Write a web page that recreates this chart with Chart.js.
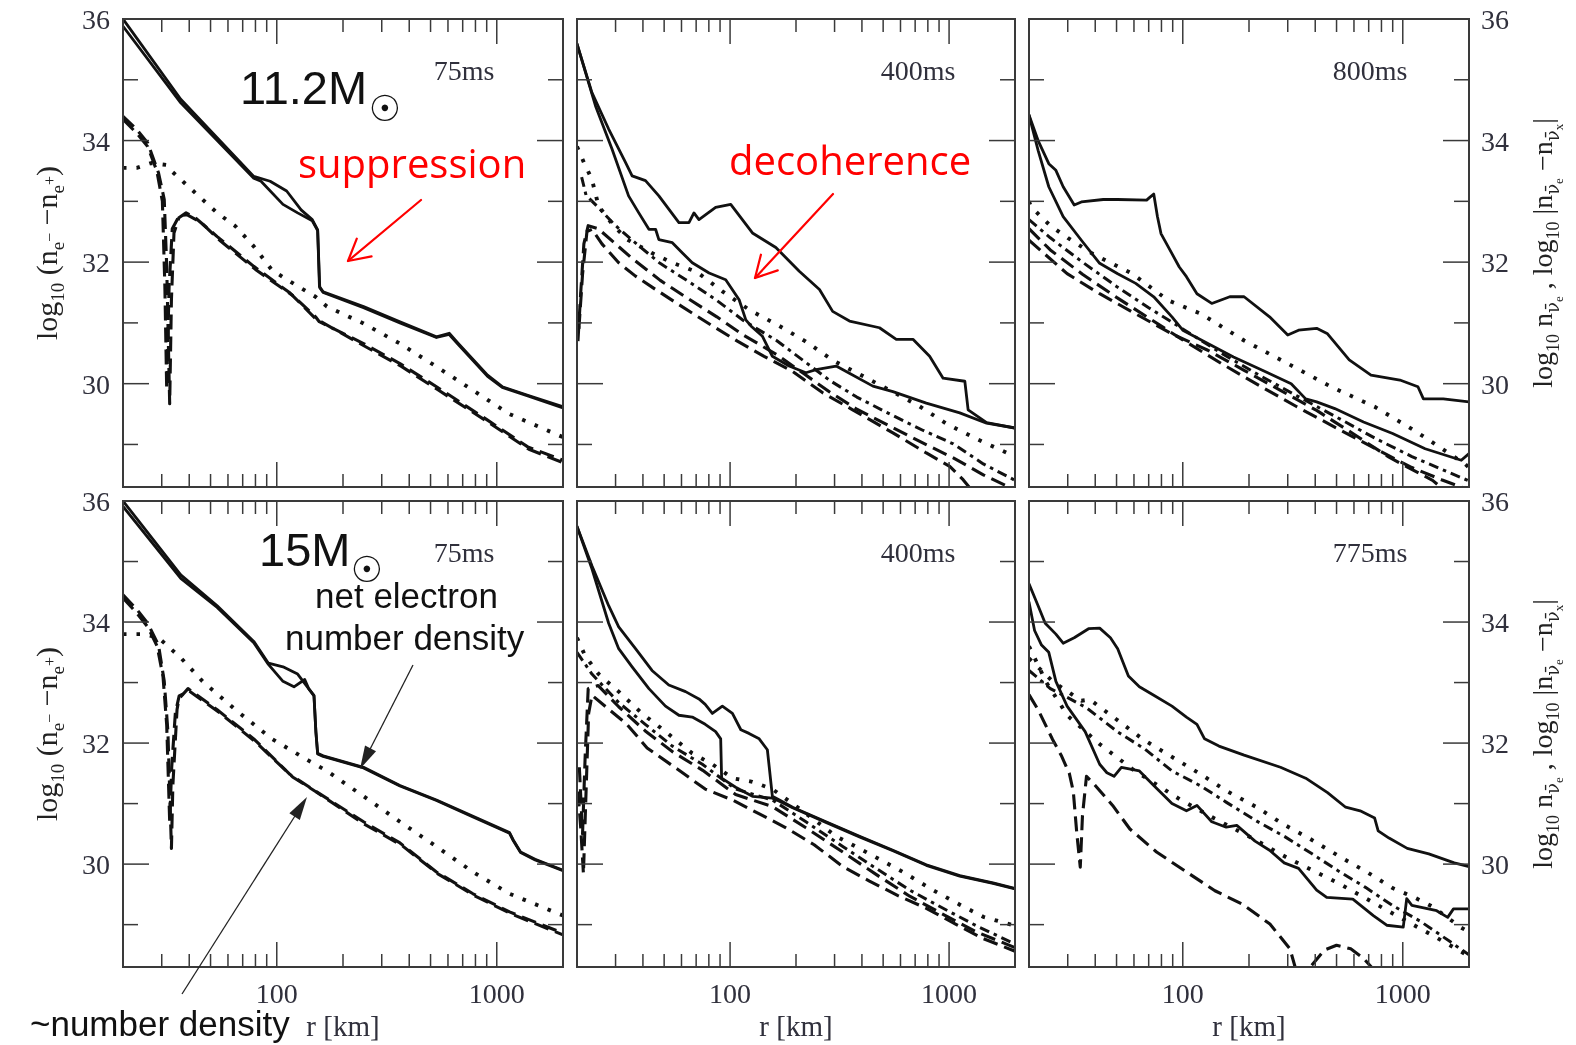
<!DOCTYPE html>
<html>
<head>
<meta charset="utf-8">
<script src="https://cdn.jsdelivr.net/npm/chart.js"></script>
<style>
  html, body { margin: 0; padding: 0; background: #fff; }
  #stage { position: relative; width: 1576px; height: 1045px; overflow: hidden; background: #fff; }
  #stage canvas { position: absolute; left: 0; top: 0; }
  #ann { position: absolute; left: 0; top: 0; }
</style>
</head>
<body>
<div id="stage">
  <svg id="ann" width="1576" height="1045" xmlns="http://www.w3.org/2000/svg"></svg>
</div>
<script>
// ---- axes ----
const X_MIN = 20, X_MAX = 2000;
const Y_MIN = 28.3, Y_MAX = 36;
const xMajorTicks = [100, 1000];
const xMinorTicks = [20, 30, 40, 50, 60, 70, 80, 90, 200, 300, 400, 500, 600, 700, 800, 900, 2000];
const yTicks = [29, 30, 31, 32, 33, 34, 35, 36];
const yTickLabels = [30, 32, 34, 36];
const xTickLabels = [100, 1000];
const timeLabels = ['75ms', '400ms', '800ms', '75ms', '400ms', '775ms'];

// ---- 11.2 Msun, 75 ms : [r km, log10 n] ----
const p1SolidA = [[20,36.0],[36.6,34.68],[78.6,33.41],[93.3,33.33],[110.9,33.17],[129,32.86],[145,32.70],[153.4,32.53],[156.3,31.60],[162.5,31.51],[248,31.27],[363,31.02],[532,30.77],[608,30.83],[670,30.66],[908,30.14],[1059,29.95],[1383,29.81],[2000,29.62]];
const p1SolidB = [[20,35.88],[36.6,34.62],[78.6,33.38],[84.8,33.33],[106.7,32.95],[124.4,32.81],[145,32.68],[153.4,32.52],[156.8,31.58],[162.5,31.50],[248,31.25],[363,31.0],[532,30.76],[608,30.81],[670,30.64],[908,30.12],[1059,29.94],[1383,29.80],[2000,29.60]];
const p1DashA = [[20,34.40],[23.1,34.18],[25.9,33.96],[29,33.47],[30.8,33.03],[31.6,31.93],[32.6,29.67],[33.2,31.38],[34.1,32.48],[35.9,32.73],[38.7,32.81],[42.6,32.73],[53.6,32.42],[78.6,31.93],[115,31.49],[150,31.10],[156,31.02],[248,30.66],[363,30.33],[532,29.95],[908,29.40],[1383,28.96],[2000,28.74]];
const p1DashB = [[20,34.35],[23.1,34.12],[25.9,33.90],[28.5,33.5],[30.2,33.0],[31.0,31.6],[31.6,29.9],[32.4,31.6],[33.5,32.55],[36,32.76],[39,32.78],[45,32.66],[55,32.36],[80,31.88],[118,31.45],[150,31.07],[250,30.62],[370,30.28],[540,29.90],[920,29.36],[1400,28.92],[2000,28.70]];
const p1Dot = [[20,33.55],[23.1,33.55],[26.9,33.63],[31.4,33.60],[33.2,33.50],[42.6,33.14],[53.6,32.81],[64.9,32.59],[78.6,32.26],[95,31.87],[115,31.68],[150,31.43],[169,31.27],[248,30.99],[363,30.66],[532,30.28],[780,29.89],[1143,29.50],[2000,29.12]];

// ---- 11.2 Msun, 400 ms ----
const p2SolidA = [[20,35.59],[23.4,34.79],[27.9,34.19],[33.3,33.64],[35.7,33.42],[41.1,33.34],[47.3,33.09],[58.4,32.65],[64.9,32.65],[68.4,32.81],[72.1,32.70],[85.9,32.90],[100.7,32.95],[126.5,32.48],[161.8,32.24],[207,31.85],[256,31.55],[294,31.19],[351,31.03],[481,30.92],[574,30.73],[684,30.73],[815,30.45],[939,30.09],[1180,30.04],[1222,29.57],[1484,29.36],[2000,29.27]];
const p2SolidB = [[20,35.59],[24.3,34.57],[28.9,33.86],[34.4,33.09],[38.3,32.81],[42.6,32.54],[45.7,32.54],[47.3,32.37],[54.5,32.32],[60.6,32.15],[67.2,31.99],[80.2,31.82],[95.5,31.71],[110,31.38],[118,31.05],[124.5,30.95],[140.6,30.78],[156,30.45],[186,30.29],[222,30.18],[247,30.23],[305,30.29],[339,30.20],[449,29.96],[554,29.87],[787,29.68],[1119,29.52],[1484,29.35],[2000,29.27]];
const p2Dot = [[20,33.9],[21.5,33.64],[23.4,33.36],[25.1,32.92],[29.5,32.59],[34,32.37],[44,32.15],[54.5,31.99],[70.4,31.84],[93,31.51],[123,31.21],[166,30.96],[220,30.70],[296,30.38],[392,30.15],[537,29.89],[724,29.64],[975,29.34],[1337,29.09],[2000,28.80]];
const p2DashDot = [[21,33.4],[22,33.1],[25,32.9],[30,32.6],[36,32.35],[47.9,31.98],[63.4,31.70],[87,31.37],[115,31.04],[163,30.71],[216,30.38],[286,30.05],[379,29.78],[537,29.50],[762,29.23],[1045,29.01],[1433,28.68],[2000,28.41]];
const p2DashA = [[20.2,30.7],[20.8,31.5],[21.5,32.3],[22.5,32.6],[25,32.55],[30,32.3],[36,32.05],[48,31.7],[63,31.42],[87,31.10],[115,30.80],[163,30.48],[216,30.17],[286,29.86],[379,29.58],[537,29.30],[762,29.02],[1045,28.78],[1433,28.50],[2000,28.25]];
const p2DashB = [[20.4,30.9],[21.2,31.8],[22.2,32.5],[23.4,32.54],[26,32.3],[31,31.99],[37,31.77],[45.7,31.55],[58.4,31.30],[81.5,30.97],[108,30.70],[143,30.45],[193,30.20],[265,29.85],[363,29.57],[554,29.19],[787,28.86],[1007,28.64],[1159,28.42],[1300,28.2]];

// ---- 11.2 Msun, 800 ms ----
const p3SolidA = [[20,34.42],[22,34.0],[24.6,33.62],[26.5,33.51],[28.6,33.24],[32.1,32.94],[34.6,32.99],[43.5,33.03],[50.6,33.03],[68.5,33.02],[71,33.07],[73.8,33.12],[76.7,32.75],[79.6,32.47],[89.3,32.14],[96.4,31.92],[103.9,31.76],[116,31.48],[135.4,31.32],[163.6,31.43],[190,31.43],[248,31.10],[300,30.80],[336,30.88],[406,30.91],[455,30.82],[571,30.39],[717,30.14],[970,30.06],[1172,29.95],[1241,29.75],[1528,29.75],[2000,29.70]];
const p3SolidB = [[20,34.42],[22,33.84],[24.6,33.24],[28.6,32.75],[34.6,32.36],[41.9,31.98],[50.6,31.81],[61.1,31.65],[73.8,31.43],[89.3,31.10],[100,30.88],[130,30.66],[170,30.44],[230,30.22],[311,30.0],[362,29.75],[406,29.70],[491,29.59],[663,29.37],[899,29.18],[1264,28.93],[1845,28.74],[2000,28.85]];
const p3Dot = [[20,33.0],[20.4,32.91],[25,32.6],[30,32.4],[38.8,32.14],[58.9,31.81],[85.9,31.37],[121,31.15],[190,30.71],[300,30.33],[472,29.95],[745,29.62],[1129,29.23],[1918,28.68],[2000,28.62]];
const p3DashDot = [[20,32.7],[25,32.4],[35,32.0],[50,31.6],[70,31.25],[100,30.9],[150,30.5],[220,30.15],[330,29.8],[500,29.45],[750,29.1],[1100,28.8],[2000,28.4]];
const p3DashA = [[20,32.55],[25,32.2],[35,31.8],[50,31.42],[70,31.08],[100,30.72],[150,30.33],[220,29.98],[330,29.62],[500,29.27],[750,28.93],[1100,28.62],[1500,28.42],[2000,28.25]];
const p3DashB = [[20,32.36],[29.8,31.81],[41.9,31.48],[61,31.15],[89,30.82],[130,30.55],[190,30.22],[278,29.89],[406,29.56],[593,29.18],[866,28.79],[1045,28.63],[1366,28.41],[1600,28.2]];

// ---- 15 Msun, 75 ms ----
const p4SolidA = [[20,36.0],[36.6,34.78],[53.6,34.27],[78.6,33.68],[91.6,33.32],[106.7,33.26],[124.4,33.14],[139.6,32.90],[147.6,32.79],[150.6,32.19],[153.4,31.83],[162.5,31.79],[248,31.60],[363,31.30],[532,31.06],[780,30.79],[1143,30.52],[1188,30.40],[1283,30.20],[1494,30.08],[2000,29.90]];
const p4SolidB = [[20,35.91],[36.6,34.72],[53.6,34.24],[78.6,33.66],[91.6,33.30],[106.7,33.02],[119.7,32.93],[134,33.05],[139.6,32.90],[147.6,32.78],[150.6,32.18],[153.4,31.82],[162.5,31.78],[248,31.59],[363,31.29],[532,31.05],[780,30.78],[1143,30.51],[1188,30.39],[1283,30.19],[1494,30.07],[2000,29.89]];
const p4DashA = [[20,34.45],[23.1,34.21],[25.9,33.98],[29,33.62],[30.8,33.02],[32,32.19],[33.2,30.26],[33.7,31.30],[35.2,32.55],[35.9,32.73],[39.5,32.90],[53.6,32.55],[78.6,32.07],[115,31.48],[145,31.24],[248,30.70],[363,30.35],[532,29.87],[780,29.51],[1143,29.21],[2000,28.86]];
const p4DashB = [[20,34.40],[23.1,34.15],[25.9,33.92],[28.6,33.6],[30.4,33.1],[31.6,32.3],[32.6,30.7],[33.3,31.6],[34.6,32.5],[36,32.78],[40,32.86],[55,32.50],[80,32.02],[118,31.44],[150,31.20],[250,30.66],[370,30.31],[540,29.84],[790,29.48],[1160,29.18],[2000,28.83]];
const p4Dot = [[20,33.80],[24.9,33.80],[29,33.74],[36.6,33.41],[46,33.02],[64.9,32.55],[95,32.07],[139.6,31.71],[169,31.54],[248,31.12],[363,30.70],[532,30.29],[780,29.87],[1143,29.51],[2000,29.15]];

// ---- 15 Msun, 400 ms ----
const p5SolidA = [[20,35.58],[23.4,34.93],[27.9,34.27],[31,33.92],[37,33.56],[44,33.20],[52.5,32.96],[62.6,32.85],[72.1,32.73],[77,32.64],[83,32.49],[92.2,32.61],[102.5,32.49],[112,32.22],[122,32.16],[135.8,32.07],[148,31.89],[151,31.60],[156,31.12],[168,31.06],[193,30.94],[274,30.70],[390,30.46],[554,30.23],[787,29.99],[1119,29.81],[1587,29.69],[2000,29.60]];
const p5SolidB = [[20,35.58],[23.4,34.88],[27.9,33.98],[31,33.56],[35.7,33.26],[42.6,32.90],[50.7,32.61],[58.4,32.46],[67.2,32.43],[77,32.31],[85.9,32.19],[90.6,32.07],[91.5,31.42],[106,31.27],[126.5,31.12],[156,31.09],[168,31.04],[193,30.93],[274,30.69],[390,30.45],[554,30.22],[787,29.98],[1119,29.80],[1587,29.68],[2000,29.59]];
const p5Dot = [[20,33.74],[21.8,33.44],[25.1,33.14],[31,32.85],[39.6,32.49],[50.7,32.19],[67.2,31.83],[83,31.65],[102.5,31.42],[126.5,31.36],[156,31.24],[214,30.88],[305,30.46],[433,30.17],[616,29.87],[845,29.57],[1119,29.33],[1432,29.13],[2000,28.98]];
const p5DashDot = [[20,33.5],[23.4,33.14],[31,32.67],[41,32.31],[54.5,31.95],[74.7,31.65],[106,31.24],[156,31.06],[222,30.70],[327,30.29],[464,29.93],[661,29.57],[939,29.27],[1334,28.98],[2000,28.68]];
const p5DashA = [[20.2,31.2],[20.8,30.6],[21.4,29.84],[22,31.2],[22.6,32.49],[23.4,32.79],[33.8,32.31],[41.8,31.92],[57.4,31.57],[77,31.24],[102.5,31.06],[136,30.83],[180,30.6],[242,30.32],[327,29.96],[433,29.72],[584,29.48],[787,29.27],[1081,29.0],[1432,28.77],[2000,28.56]];
const p5DashB = [[20.5,31.6],[21.2,30.5],[21.8,31.8],[22.5,32.9],[25,32.95],[31,32.6],[41,32.2],[55,31.85],[75,31.55],[106,31.15],[156,30.95],[222,30.6],[327,30.2],[464,29.83],[661,29.47],[939,29.17],[1334,28.88],[2000,28.62]];

// ---- 15 Msun, 775 ms ----
const p6SolidA = [[20,34.63],[22,34.27],[23.7,33.98],[26.5,33.80],[28.6,33.65],[32.1,33.74],[37.3,33.89],[41.9,33.90],[46.9,33.74],[50.6,33.56],[56.6,33.11],[63.5,32.93],[73.8,32.79],[89.3,32.61],[103.9,32.43],[116,32.31],[125.6,32.07],[146,31.95],[190,31.80],[278,31.60],[362,31.42],[455,31.18],[550,30.94],[640,30.88],[745,30.76],[773,30.55],[866,30.43],[1048,30.26],[1313,30.17],[1714,30.02],[2000,29.96]];
const p6SolidB = [[20,34.33],[21.2,33.86],[22.8,33.62],[24.6,33.50],[26.5,33.02],[29.8,32.61],[36,32.19],[41.9,31.65],[45.2,31.51],[48.7,31.45],[52.6,31.60],[63.5,31.54],[73.8,31.30],[89.3,31.0],[103.9,30.88],[116,30.97],[135.4,30.70],[157.6,30.61],[176,30.64],[213,30.38],[248,30.23],[289,30.02],[336,29.93],[406,29.57],[451,29.45],[593,29.42],[735,29.15],[845,28.99],[1005,28.96],[1042,29.43],[1100,29.32],[1426,29.23],[1600,29.12],[1700,29.26],[2000,29.26]];
const p6Dot = [[20,33.4],[25.6,33.02],[34.6,32.70],[37.8,32.72],[50,32.39],[66,32.06],[87.5,31.79],[120,31.49],[158,31.21],[217,30.94],[286,30.66],[378,30.42],[519,30.12],[686,29.87],[904,29.60],[1129,29.45],[1363,29.30],[1845,28.95],[2000,28.88]];
const p6Dot2 = [[20,33.6],[24,33.0],[30,32.45],[42,31.98],[60,31.55],[97,31.07],[140,30.75],[209,30.42],[300,30.10],[519,29.67],[937,29.15],[1400,28.80],[2000,28.48]];
const p6DashDot = [[20,33.2],[25,32.9],[30,32.75],[36.6,32.58],[50.8,32.18],[67.3,31.90],[89.3,31.54],[121,31.29],[158,31.02],[217,30.71],[292,30.45],[387,30.17],[508,29.89],[674,29.62],[904,29.31],[1197,29.06],[1640,28.72],[2000,28.50]];
const p6Dash = [[20,32.8],[22,32.55],[25.6,32.06],[28,31.8],[30.5,31.5],[31.8,31.2],[33,30.5],[34.2,29.95],[35,30.8],[36.5,31.45],[40,31.3],[48,30.97],[57.5,30.58],[76,30.2],[106,29.85],[140,29.56],[186,29.34],[249,29.01],[307,28.6],[330,28.2],[355,27.9],[380,28.3],[440,28.58],[500,28.66],[580,28.6],[660,28.45],[720,28.3],[760,28.0]];

// ---- line styles ----
const STYLE = {
  solid:   { borderWidth: 2.8, borderDash: [], borderCapStyle: 'round' },
  dashed:  { borderWidth: 3.1, borderDash: [15, 7], borderCapStyle: 'butt' },
  dotted:  { borderWidth: 3.9, borderDash: [3.5, 10], borderCapStyle: 'butt' },
  dashdot: { borderWidth: 3.0, borderDash: [10, 5, 3.5, 5], borderCapStyle: 'butt' }
};

const panelSeries = [
  [['solid', p1SolidA], ['solid', p1SolidB], ['dashed', p1DashA], ['dashed', p1DashB], ['dotted', p1Dot]],
  [['solid', p2SolidA], ['solid', p2SolidB], ['dotted', p2Dot], ['dashdot', p2DashDot], ['dashed', p2DashA], ['dashed', p2DashB]],
  [['solid', p3SolidA], ['solid', p3SolidB], ['dotted', p3Dot], ['dashdot', p3DashDot], ['dashed', p3DashA], ['dashed', p3DashB]],
  [['solid', p4SolidA], ['solid', p4SolidB], ['dashed', p4DashA], ['dashed', p4DashB], ['dotted', p4Dot]],
  [['solid', p5SolidA], ['solid', p5SolidB], ['dotted', p5Dot], ['dashdot', p5DashDot], ['dashed', p5DashA], ['dashed', p5DashB]],
  [['solid', p6SolidA], ['solid', p6SolidB], ['dotted', p6Dot], ['dotted', p6Dot2], ['dashdot', p6DashDot], ['dashed', p6Dash]]
];

// ---- page layout ----
const W = 1576, H = 1045;
const COLS = [[123, 563], [577, 1015], [1029, 1469]];
const ROWS = [[19, 487], [501, 967]];

const framePlugin = {
  id: 'frame',
  afterDraw(chart, args, o) {
    const { ctx, chartArea: a } = chart;
    const xs = chart.scales.x, ys = chart.scales.y;
    ctx.save();
    ctx.strokeStyle = '#3a3a3a';
    ctx.lineWidth = 1.5;
    const seg = (x1, y1, x2, y2) => { ctx.beginPath(); ctx.moveTo(x1, y1); ctx.lineTo(x2, y2); ctx.stroke(); };
    xMinorTicks.forEach(v => { const px = xs.getPixelForValue(v); seg(px, a.top, px, a.top + 13); seg(px, a.bottom, px, a.bottom - 13); });
    xMajorTicks.forEach(v => { const px = xs.getPixelForValue(v); seg(px, a.top, px, a.top + 25); seg(px, a.bottom, px, a.bottom - 25); });
    yTicks.forEach(v => {
      const py = ys.getPixelForValue(v);
      const len = yTickLabels.includes(v) ? 26 : 15;
      seg(a.left, py, a.left + len, py);
      seg(a.right, py, a.right - len, py);
    });
    ctx.lineWidth = 2;
    ctx.strokeRect(a.left, a.top, a.right - a.left, a.bottom - a.top);

    ctx.fillStyle = '#30303c';
    ctx.font = '28px "Liberation Serif"';
    ctx.textBaseline = 'alphabetic';
    if (o.leftLabels) {
      ctx.textAlign = 'right';
      yTickLabels.forEach(v => ctx.fillText(String(v), a.left - 13, ys.getPixelForValue(v) + 10));
    }
    if (o.rightLabels) {
      ctx.textAlign = 'left';
      yTickLabels.forEach(v => ctx.fillText(String(v), a.right + 12, ys.getPixelForValue(v) + 10));
    }
    if (o.bottomLabels) {
      ctx.textAlign = 'center';
      xTickLabels.forEach(v => ctx.fillText(String(v), xs.getPixelForValue(v), a.bottom + 36));
      ctx.font = '29px "Liberation Serif"';
      ctx.fillText('r [km]', (a.left + a.right) / 2, a.bottom + 69);
    }
    ctx.font = '28px "Liberation Serif"';
    ctx.textAlign = 'center';
    ctx.fillText(o.time, a.left + 341, a.top + 61);
    ctx.restore();
  }
};

const stage = document.getElementById('stage');
const svgEl = document.getElementById('ann');

panelSeries.forEach((series, i) => {
  const row = Math.floor(i / 3), col = i % 3;
  const [l, r] = COLS[col], [t, b] = ROWS[row];
  const cv = document.createElement('canvas');
  cv.width = W; cv.height = H;
  cv.style.width = W + 'px'; cv.style.height = H + 'px';
  stage.insertBefore(cv, svgEl);
  new Chart(cv, {
    type: 'scatter',
    data: {
      datasets: series.map(([style, pts]) => Object.assign({
        data: pts.map(([x, y]) => ({ x, y })),
        showLine: true,
        pointRadius: 0,
        borderColor: '#111',
        backgroundColor: '#111',
        borderJoinStyle: 'round',
        fill: false
      }, STYLE[style]))
    },
    options: {
      responsive: false,
      animation: false,
      devicePixelRatio: 1,
      events: [],
      layout: { padding: { left: l, right: W - r, top: t, bottom: H - b } },
      plugins: {
        legend: { display: false },
        tooltip: { enabled: false },
        frame: { leftLabels: col === 0, rightLabels: col === 2, bottomLabels: row === 1, time: timeLabels[i] }
      },
      scales: {
        x: { type: 'logarithmic', min: X_MIN, max: X_MAX, display: false },
        y: { type: 'linear', min: Y_MIN, max: Y_MAX, display: false }
      }
    },
    plugins: [framePlugin]
  });
});

// ---- titles, notes and arrows ----
const NS = 'http://www.w3.org/2000/svg';
function addText(x, y, html, attrs) {
  const el = document.createElementNS(NS, 'text');
  el.setAttribute('x', x); el.setAttribute('y', y);
  Object.entries(attrs || {}).forEach(([k, v]) => el.setAttribute(k, v));
  el.innerHTML = html;
  svgEl.appendChild(el);
  return el;
}
function addEl(tag, attrs) {
  const el = document.createElementNS(NS, tag);
  Object.entries(attrs).forEach(([k, v]) => el.setAttribute(k, v));
  svgEl.appendChild(el);
  return el;
}
function arrow(x1, y1, x2, y2, color, width, len, spread, filled) {
  const ang = Math.atan2(y2 - y1, x2 - x1);
  const a1 = [x2 - len * Math.cos(ang - spread), y2 - len * Math.sin(ang - spread)];
  const a2 = [x2 - len * Math.cos(ang + spread), y2 - len * Math.sin(ang + spread)];
  if (filled) {
    const bx = x2 - len * 0.85 * Math.cos(ang), by = y2 - len * 0.85 * Math.sin(ang);
    addEl('line', { x1, y1, x2: bx, y2: by, stroke: color, 'stroke-width': width });
    addEl('polygon', { points: `${a1[0]},${a1[1]} ${x2},${y2} ${a2[0]},${a2[1]}`, fill: color });
  } else {
    addEl('line', { x1, y1, x2, y2, stroke: color, 'stroke-width': width, 'stroke-linecap': 'round' });
    addEl('polyline', { points: `${a1[0]},${a1[1]} ${x2},${y2} ${a2[0]},${a2[1]}`, fill: 'none', stroke: color, 'stroke-width': width, 'stroke-linecap': 'round', 'stroke-linejoin': 'round' });
  }
}

const SANS = '"Liberation Sans", Arial, sans-serif';
const SERIF = '"Liberation Serif", "Times New Roman", serif';

// star masses
addText(240, 104, '11.2M', { 'font-family': SANS, 'font-size': 47, fill: '#111' });
addText(385, 121, '☉', { 'font-family': '"DejaVu Sans"', 'font-size': 36, fill: '#111', 'text-anchor': 'middle' });
addText(259, 566, '15M', { 'font-family': SANS, 'font-size': 47, fill: '#111' });
addText(367, 582, '☉', { 'font-family': '"DejaVu Sans"', 'font-size': 36, fill: '#111', 'text-anchor': 'middle' });

// red notes
addText(298, 178, 'suppression', { 'font-family': '"Open Sans", sans-serif', 'font-size': 40, fill: '#ff0000' });
arrow(421, 200, 348, 261, '#ff0000', 2.2, 24, 0.5, false);
addText(729, 175, 'decoherence', { 'font-family': '"Open Sans", sans-serif', 'font-size': 40, fill: '#ff0000' });
arrow(833, 194, 755, 278, '#ff0000', 2.2, 24, 0.5, false);

// black notes
addText(315, 608, 'net electron', { 'font-family': SANS, 'font-size': 35, fill: '#111' });
addText(285, 650, 'number density', { 'font-family': SANS, 'font-size': 35, fill: '#111' });
arrow(413, 665, 360, 769, '#222', 1.3, 24, 0.26, true);
addText(30, 1036, '~number density', { 'font-family': SANS, 'font-size': 35, fill: '#111' });
arrow(182, 994, 307, 797, '#222', 1.3, 24, 0.26, true);

// y-axis titles
const leftTitle = 'log<tspan font-size="19" dy="7">10</tspan><tspan dy="-7"> (n</tspan><tspan font-size="19" dy="7">e</tspan><tspan font-size="16" dy="-9">−</tspan><tspan dy="2"> −n</tspan><tspan font-size="19" dy="7">e</tspan><tspan font-size="16" dy="-9">+</tspan><tspan dy="2">)</tspan>';
const rightTitle = 'log<tspan font-size="18" dy="7">10</tspan><tspan dy="-7"> n</tspan><tspan font-size="18" dy="7" font-family="DejaVu Serif">ν̄</tspan><tspan font-size="13" dy="4">e</tspan><tspan dy="-11"> , log</tspan><tspan font-size="18" dy="7">10</tspan><tspan dy="-7"> |n</tspan><tspan font-size="18" dy="7" font-family="DejaVu Serif">ν̄</tspan><tspan font-size="13" dy="4">e</tspan><tspan dy="-11"> −n</tspan><tspan font-size="18" dy="7" font-family="DejaVu Serif">ν̄</tspan><tspan font-size="13" dy="4">x</tspan><tspan dy="-11">|</tspan>';
ROWS.forEach(([t, b]) => {
  const cy = (t + b) / 2;
  addText(0, 0, leftTitle, { transform: `translate(57,${cy}) rotate(-90)`, 'text-anchor': 'middle', 'font-family': SERIF, 'font-size': 30, fill: '#222' });
  addText(0, 0, rightTitle, { transform: `translate(1552,${cy}) rotate(-90)`, 'text-anchor': 'middle', 'font-family': SERIF, 'font-size': 28, fill: '#222' });
});
</script>
</body>
</html>
